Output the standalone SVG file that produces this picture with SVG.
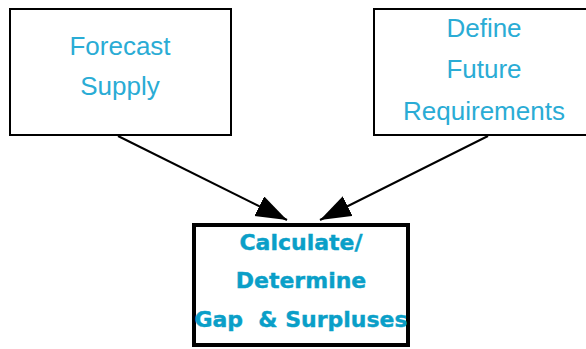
<svg xmlns="http://www.w3.org/2000/svg" width="586" height="349" viewBox="0 0 586 349">
<style>
.box{fill:#fff;stroke:#000;stroke-width:2}
.main{fill:#fff;stroke:#000;stroke-width:4}
.lt{font-family:"Liberation Sans",Arial,sans-serif;font-size:26px;fill:#2aacd5;text-anchor:middle}
.bd{font-family:"DejaVu Sans",sans-serif;font-weight:bold;font-size:22px;fill:#0a9fc8;text-anchor:middle;stroke:#0a9fc8;stroke-width:0.4}
.conn{stroke:#000;stroke-width:2;fill:none}
</style>
<defs>
<marker id="ah" markerUnits="userSpaceOnUse" markerWidth="34" markerHeight="24" refX="31" refY="11" orient="auto">
<path d="M0,0 L31,11 L0,22 z" fill="#000"/>
</marker>
</defs>
<rect width="586" height="349" fill="#fff"/>
<g id="connectors">
<line class="conn" x1="118" y1="136" x2="287" y2="220" marker-end="url(#ah)"/>
<line class="conn" x1="488" y1="136" x2="320" y2="220" marker-end="url(#ah)"/>
</g>
<g id="forecast">
<rect class="box" x="10" y="9" width="221" height="126"/>
<text class="lt" x="120" y="55">Forecast</text>
<text class="lt" x="120" y="95">Supply</text>
</g>
<g id="define">
<rect class="box" x="374" y="9" width="220" height="126"/>
<text class="lt" x="484" y="37">Define</text>
<text class="lt" x="484" y="78">Future</text>
<text class="lt" x="484" y="120">Requirements</text>
</g>
<g id="calculate">
<rect class="main" x="194" y="225" width="214" height="120"/>
<text class="bd" x="301" y="250">Calculate/</text>
<text class="bd" x="301" y="288">Determine</text>
<text class="bd" x="301" y="327" xml:space="preserve">Gap  &amp; Surpluses</text>
</g>
</svg>
